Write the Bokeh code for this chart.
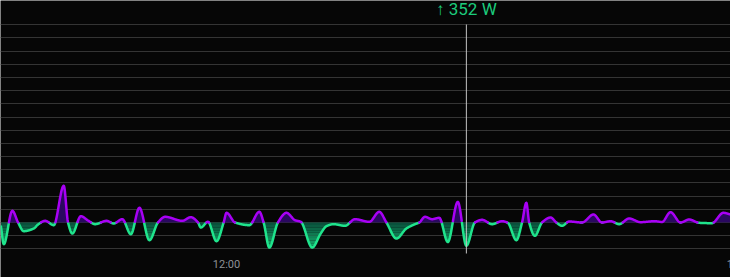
import numpy as np
from bokeh.plotting import figure
from bokeh.models import Range1d, FixedTicker, Label
from bokeh.embed import file_html
from bokeh.resources import INLINE

# ---------------- data ----------------
times = [
    "09:22", "09:24", "09:30", "09:34", "09:38", "09:45", "09:48", "09:53", "09:59", "10:06",
    "10:09", "10:12", "10:18", "10:23", "10:28", "10:36", "10:41", "10:47", "10:53", "10:59",
    "11:06", "11:12", "11:17", "11:29", "11:35", "11:40", "11:42", "11:47", "11:53", "11:58",
    "12:00", "12:06", "12:16", "12:23", "12:26", "12:30", "12:36", "12:42", "12:48", "12:52",
    "13:00", "13:06", "13:10", "13:15", "13:23", "13:30", "13:40", "13:47", "13:52", "13:59",
    "14:06", "14:12", "14:15", "14:19", "14:24", "14:29", "14:35", "14:42", "14:48", "14:54",
    "14:59", "15:06", "15:13", "15:17", "15:23", "15:27", "15:30", "15:32", "15:36", "15:41",
    "15:47", "15:51", "15:55", "16:00", "16:09", "16:17", "16:23", "16:29", "16:35", "16:42",
    "16:50", "17:00", "17:05", "17:11", "17:18", "17:24", "17:31", "17:40", "17:48", "17:53",
]
power_w = [
    -76, -412, 222, 0, -165, -114, -38, 32, -51, 697,
    0, -209, 120, 38, -32, 32, -19, 63, -222, 279,
    -336, 0, 108, 32, 101, 0, -95, 13, -355, 0,
    184, 0, -51, 203, 0, -475, 0, 184, 44, 13,
    -475, -209, -70, -32, -63, 63, 13, 203, 0, -304,
    -114, -32, 0, 108, 63, 89, -370, 390, -441, 0,
    51, -32, 25, -6, -336, 0, 374, 0, -253, 0,
    95, 0, -63, 19, 0, 152, 0, 25, -32, 76,
    6, 25, 10, 196, 0, 57, -6, -13, 184, 152,
]
y_ticks = list(range(-500, 3751, 250))
x_tick_labels = ["12:00", "18:00"]
range_start, range_end = "09:21:42", "17:53:00"
plot_min, plot_max = -588, 3756          # value span of the chart area
hover_time = "14:48"
hover_label = "\u2191 352 W"

# ---------------- helpers ----------------
def minutes(s):
    parts = [float(v) for v in s.split(":")]
    while len(parts) < 3:
        parts.append(0.0)
    return parts[0] * 60 + parts[1] + parts[2] / 60


def monotone_curve(x, y, n=3000):
    """Smooth (monotone cubic) rendering of the line through the data points."""
    x = np.asarray(x, float)
    y = np.asarray(y, float)
    h = np.diff(x)
    d = np.diff(y) / h
    m = np.zeros_like(y)
    m[0], m[-1] = d[0], d[-1]
    for i in range(1, len(y) - 1):
        if d[i - 1] * d[i] <= 0:
            m[i] = 0.0
        else:
            w1 = 2 * h[i] + h[i - 1]
            w2 = h[i] + 2 * h[i - 1]
            m[i] = (w1 + w2) / (w1 / d[i - 1] + w2 / d[i])
    xs = np.linspace(x[0], x[-1], n)
    idx = np.clip(np.searchsorted(x, xs, side="right") - 1, 0, len(x) - 2)
    t = (xs - x[idx]) / h[idx]
    h00 = 2 * t**3 - 3 * t**2 + 1
    h10 = t**3 - 2 * t**2 + t
    h01 = -2 * t**3 + 3 * t**2
    h11 = t**3 - t**2
    ys = h00 * y[idx] + h10 * h[idx] * m[idx] + h01 * y[idx + 1] + h11 * h[idx] * m[idx + 1]
    return xs, ys


W, H = 730, 277
TOP, BOTTOM = 24, 24                        # pixel margins around the chart area
upp = (plot_max - plot_min) / (H - TOP - BOTTOM)   # value units per pixel
y_lo = plot_min - BOTTOM * upp
y_hi = plot_max + TOP * upp

tx = [minutes(t) for t in times]
xs, ys = monotone_curve(tx, power_w)

BG = "#060606"
PURPLE = "#a800f5"
GREEN = "#1fe48c"
PURPLE_FILL = "#2a0860"
TICK_COLOR = "#8e9196"

p = figure(
    width=W, height=H,
    x_range=Range1d(minutes(range_start), minutes(range_end)),
    y_range=Range1d(y_lo, y_hi),
    output_backend="svg", toolbar_location=None,
    min_border=0,
    background_fill_color=BG, border_fill_color=BG, outline_line_color=None,
)

p.xaxis.visible = False
p.yaxis.visible = False
p.xgrid.visible = False
p.ygrid.ticker = FixedTicker(ticks=y_ticks)
p.ygrid.grid_line_color = "#343434"
p.ygrid.grid_line_width = 1

# fills
pos = np.maximum(ys, 0)
p.varea(x=xs, y1=np.zeros_like(xs), y2=pos, fill_color=PURPLE_FILL, fill_alpha=1)

edges = np.linspace(0, plot_min, 13)
c_top = np.array([9, 78, 58])
c_bot = np.array([26, 196, 120])
for k in range(len(edges) - 1):
    hi, lo = edges[k], edges[k + 1]
    f = (k + 0.5) / (len(edges) - 1)
    c = (c_top + (c_bot - c_top) * f).astype(int)
    color = "#%02x%02x%02x" % tuple(c)
    p.varea(x=xs, y1=np.clip(ys, lo, hi), y2=np.full_like(xs, hi), fill_color=color, fill_alpha=1)

# lines
y_up = np.where(ys >= -0.5, ys, np.nan)
y_dn = np.where(ys <= 0.5, ys, np.nan)
p.line(xs, y_dn, line_color=GREEN, line_width=2.5, line_cap="round", line_join="round")
p.line(xs, y_up, line_color=PURPLE, line_width=2.5, line_cap="round", line_join="round")

# hover marker
hx = minutes(hover_time)
p.segment(x0=[hx], y0=[plot_min], x1=[hx], y1=[plot_max], line_color="#c4c4c4", line_width=1)
p.add_layout(Label(x=hx, y=plot_max + 16 * upp, text=hover_label,
                   text_align="center", text_baseline="middle", text_color="#1ccc7c",
                   text_font="Roboto", text_font_size="17px"))

# time labels below the chart area
for t in x_tick_labels:
    p.add_layout(Label(x=minutes(t), y=plot_min - 11 * upp, text=t,
                       text_align="center", text_baseline="middle", text_color=TICK_COLOR,
                       text_font="Roboto", text_font_size="11px"))

open("out.html", "w").write(file_html(p, INLINE))
